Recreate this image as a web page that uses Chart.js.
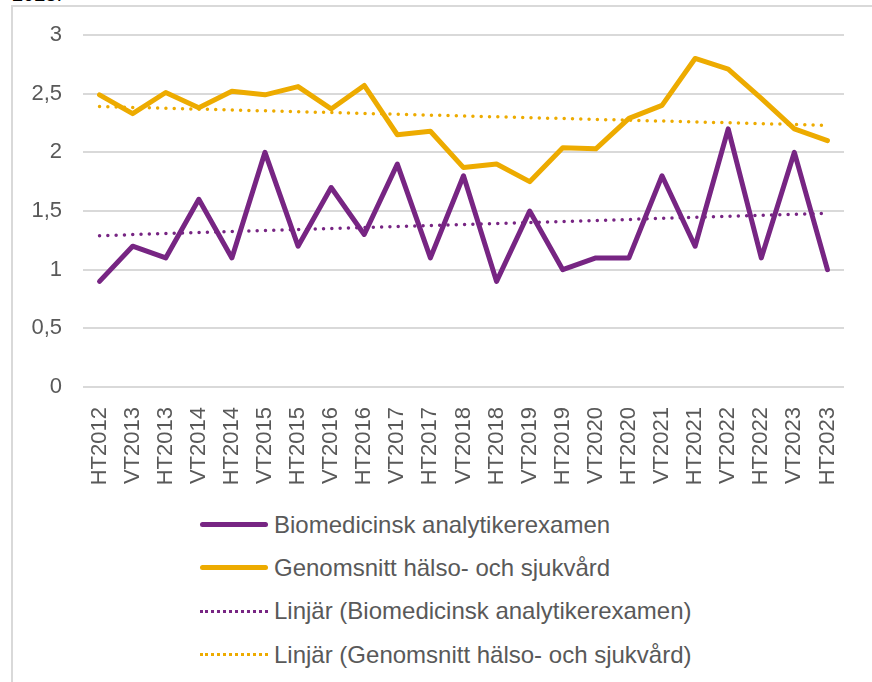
<!DOCTYPE html>
<html>
<head>
<meta charset="utf-8">
<script src="https://cdn.jsdelivr.net/npm/chart.js@4.4.1/dist/chart.umd.min.js"></script>
<style>
  body { margin: 0; background: #fff; width: 872px; height: 682px; overflow: hidden; position: relative; font-family: "Liberation Sans", Arial, sans-serif; }
  #frame { position: absolute; left: 11px; top: 5px; width: 900px; height: 720px; border-top: 2px solid #d9d9d9; border-left: 2px solid #d9d9d9; }
  #cut { position: absolute; left: 12px; top: -17px; font-size: 20px; color: #000; }
  #wrap { position: absolute; left: 0; top: 0; width: 872px; height: 500px; }
  #legend { position: absolute; left: 200px; top: 503px; margin: 0; padding: 0; list-style: none; }
  #legend li { height: 43.3px; display: flex; align-items: center; font-size: 24px; color: #595959; white-space: nowrap; }
  #legend .sample { width: 68px; margin-right: 6px; }
</style>
</head>
<body>
<div id="cut">2023.</div>
<div id="frame"></div>
<div id="wrap"><canvas id="chart"></canvas></div>
<ul id="legend"></ul>
<script>
const terms = ["HT2012","VT2013","HT2013","VT2014","HT2014","VT2015","HT2015","VT2016","HT2016","VT2017","HT2017","VT2018","HT2018","VT2019","HT2019","VT2020","HT2020","VT2021","HT2021","VT2022","HT2022","VT2023","HT2023"];

const bioValues = [0.9, 1.2, 1.1, 1.6, 1.1, 2.0, 1.2, 1.7, 1.3, 1.9, 1.1, 1.8, 0.9, 1.5, 1.0, 1.1, 1.1, 1.8, 1.2, 2.2, 1.1, 2.0, 1.0];
const avgValues = [2.49, 2.33, 2.51, 2.38, 2.52, 2.49, 2.56, 2.37, 2.57, 2.15, 2.18, 1.87, 1.90, 1.75, 2.04, 2.03, 2.29, 2.40, 2.80, 2.71, 2.46, 2.20, 2.10];

// trendlinjer: bara start- och slutvärde avlästa, resten null
const bioTrend = [1.29, null, null, null, null, null, null, null, null, null, null, null, null, null, null, null, null, null, null, null, null, null, 1.48];
const avgTrend = [2.39, null, null, null, null, null, null, null, null, null, null, null, null, null, null, null, null, null, null, null, null, null, 2.23];

const seriesLabels = [
  "Biomedicinsk analytikerexamen",
  "Genomsnitt hälso- och sjukvård",
  "Linjär (Biomedicinsk analytikerexamen)",
  "Linjär (Genomsnitt hälso- och sjukvård)"
];
const yTicks = [0, 0.5, 1, 1.5, 2, 2.5, 3];

const purple = "#772583";
const yellow = "#EDAB00";
const grey = "#595959";

Chart.defaults.font.family = '"Liberation Sans", Arial, sans-serif';

const ctx = document.getElementById("chart").getContext("2d");
const chart = new Chart(ctx, {
  type: "line",
  data: {
    labels: terms,
    datasets: [
      {
        label: seriesLabels[0],
        data: bioValues,
        borderColor: purple,
        borderWidth: 5,
        pointRadius: 0,
        borderJoinStyle: "round",
        borderCapStyle: "round",
        order: 2,
      },
      {
        label: seriesLabels[1],
        data: avgValues,
        borderColor: yellow,
        borderWidth: 5,
        pointRadius: 0,
        borderJoinStyle: "round",
        borderCapStyle: "round",
        order: 3,
      },
      {
        label: seriesLabels[2],
        data: bioTrend,
        borderColor: purple,
        borderWidth: 3.5,
        borderDash: [0, 8.3],
        borderCapStyle: "round",
        pointRadius: 0,
        spanGaps: true,
        order: 0,
        dotted: true,
      },
      {
        label: seriesLabels[3],
        data: avgTrend,
        borderColor: yellow,
        borderWidth: 3.5,
        borderDash: [0, 8.3],
        borderCapStyle: "round",
        pointRadius: 0,
        spanGaps: true,
        order: 1,
        dotted: true,
      },
    ],
  },
  options: {
    responsive: true,
    maintainAspectRatio: false,
    animation: false,
    layout: { padding: { top: 35, right: 28, left: 0, bottom: 0 } },
    plugins: {
      legend: { display: false },
      tooltip: { enabled: false },
    },
    scales: {
      x: {
        offset: true,
        grid: { display: false },
        border: { display: false },
        ticks: {
          color: grey,
          font: { size: 22 },
          minRotation: 90,
          maxRotation: 90,
          autoSkip: false,
          padding: 12,
        },
        afterFit: (scale) => { scale.height = 113; },
      },
      y: {
        min: 0,
        max: 3,
        afterBuildTicks: (scale) => { scale.ticks = yTicks.map((v) => ({ value: v })); },
        grid: { color: "#d9d9d9", lineWidth: 2, drawTicks: false },
        border: { display: false },
        ticks: {
          color: grey,
          font: { size: 22 },
          padding: 21,
          callback: (v) => String(v).replace(".", ","),
        },
        afterFit: (scale) => { scale.width = 83; },
      },
    },
  },
});

// legend i HTML, en rad per serie
const legendEl = document.getElementById("legend");
chart.data.datasets.forEach((ds) => {
  const li = document.createElement("li");
  const sample = document.createElement("span");
  sample.className = "sample";
  if (ds.dotted) {
    sample.style.borderTop = "3.5px dotted " + ds.borderColor;
  } else {
    sample.style.height = "5px";
    sample.style.borderRadius = "3px";
    sample.style.background = ds.borderColor;
  }
  li.appendChild(sample);
  li.appendChild(document.createTextNode(ds.label));
  legendEl.appendChild(li);
});
</script>
</body>
</html>
